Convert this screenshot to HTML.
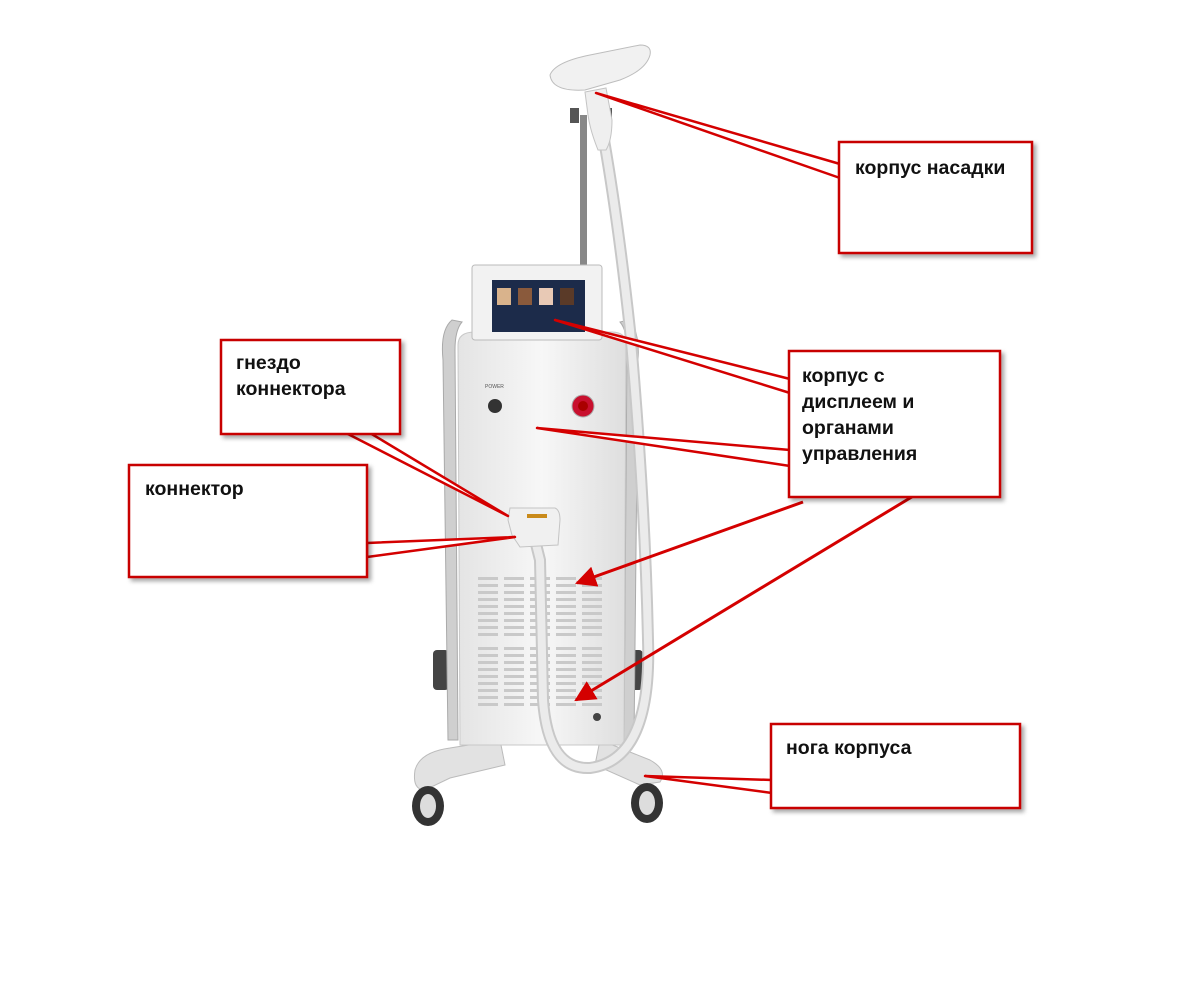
<!DOCTYPE html>
<html><head><meta charset="utf-8"><style>
html,body{margin:0;padding:0;background:#fff;}
svg{display:block;}
text{font-family:"Liberation Sans",Arial,sans-serif;font-weight:bold;font-size:19.5px;fill:#111;}
</style></head><body>
<svg width="1200" height="991" viewBox="0 0 1200 991" xmlns="http://www.w3.org/2000/svg">
<defs>
<linearGradient id="body" x1="0" x2="1"><stop offset="0" stop-color="#e4e4e4"/><stop offset="0.5" stop-color="#f7f7f7"/><stop offset="1" stop-color="#dedede"/></linearGradient>
<marker id="ah" viewBox="0 0 10 10" refX="9" refY="5" markerWidth="7" markerHeight="7" orient="auto"><path d="M0,0 L10,5 L0,10 z" fill="#d40000"/></marker>
<filter id="sh" x="-5%" y="-5%" width="115%" height="115%"><feDropShadow dx="3" dy="3" stdDeviation="2" flood-color="#000" flood-opacity="0.35"/></filter>
</defs>
<rect width="1200" height="991" fill="#fff"/>

<!-- base / legs -->
<path d="M415,770 Q420,752 450,748 L500,740 L505,765 L450,778 L425,790 Q412,790 415,770z" fill="#e2e2e2" stroke="#bbb"/>
<path d="M600,740 L650,760 Q668,770 660,782 L640,785 L595,765z" fill="#e2e2e2" stroke="#bbb"/>
<rect x="433" y="650" width="16" height="40" rx="4" fill="#444"/>
<rect x="627" y="650" width="16" height="40" rx="4" fill="#444"/>
<ellipse cx="428" cy="806" rx="16" ry="20" fill="#333"/><ellipse cx="428" cy="806" rx="8" ry="12" fill="#ddd"/>
<ellipse cx="647" cy="803" rx="16" ry="20" fill="#333"/><ellipse cx="647" cy="803" rx="8" ry="12" fill="#ddd"/>

<path d="M452,320 Q440,330 443,360 L448,740 L458,740 L455,350 Q455,330 462,322z" fill="#cfcfcf" stroke="#aaa"/>
<path d="M628,320 Q640,330 638,360 L634,740 L624,740 L627,350 Q627,330 620,322z" fill="#cfcfcf" stroke="#aaa"/>
<path d="M458,345 Q458,332 475,332 L612,332 Q626,332 626,345 L624,745 L460,745z" fill="url(#body)" stroke="#c8c8c8"/>
<g fill="#c9c9c9">
<g id="vcol">
<rect x="478" y="577" width="20" height="3"/><rect x="478" y="584" width="20" height="3"/><rect x="478" y="591" width="20" height="3"/><rect x="478" y="598" width="20" height="3"/><rect x="478" y="605" width="20" height="3"/><rect x="478" y="612" width="20" height="3"/><rect x="478" y="619" width="20" height="3"/><rect x="478" y="626" width="20" height="3"/><rect x="478" y="633" width="20" height="3"/>
<rect x="478" y="647" width="20" height="3"/><rect x="478" y="654" width="20" height="3"/><rect x="478" y="661" width="20" height="3"/><rect x="478" y="668" width="20" height="3"/><rect x="478" y="675" width="20" height="3"/><rect x="478" y="682" width="20" height="3"/><rect x="478" y="689" width="20" height="3"/><rect x="478" y="696" width="20" height="3"/><rect x="478" y="703" width="20" height="3"/>
</g>
<use href="#vcol" x="26"/><use href="#vcol" x="52"/><use href="#vcol" x="78"/><use href="#vcol" x="104"/>
</g>
<text x="485" y="388" style="font-size:5px;font-weight:normal;fill:#555">POWER</text>
<circle cx="495" cy="406" r="7" fill="#333"/>
<circle cx="583" cy="406" r="11" fill="#c8102e" stroke="#aaa"/>
<circle cx="583" cy="406" r="5" fill="#a00"/>
<circle cx="597" cy="717" r="4" fill="#444"/>

<rect x="580" y="115" width="7" height="155" fill="#888"/>
<rect x="472" y="265" width="130" height="75" rx="3" fill="#f2f2f2" stroke="#bbb"/>
<rect x="492" y="280" width="93" height="52" fill="#1c2b4a"/>
<rect x="497" y="288" width="14" height="17" fill="#d9b38c"/><rect x="518" y="288" width="14" height="17" fill="#8a5a3c"/><rect x="539" y="288" width="14" height="17" fill="#e8c9b5"/><rect x="560" y="288" width="14" height="17" fill="#5a3a28"/>

<!-- hose -->
<path d="M604,140 Q618,220 630,330 Q645,500 648,640 Q652,760 590,768 Q548,770 543,700 L540,560 L535,540" fill="none" stroke="#c8c8c8" stroke-width="12"/>
<path d="M604,140 Q618,220 630,330 Q645,500 648,640 Q652,760 590,768 Q548,770 543,700 L540,560 L535,540" fill="none" stroke="#ebebeb" stroke-width="8"/>
<path d="M510,508 L555,508 Q560,510 560,520 L558,545 L520,547 L512,535 L508,520z" fill="#f0f0f0" stroke="#c4c4c4"/>
<rect x="527" y="514" width="20" height="4" fill="#c98a1a"/>
<!-- handpiece -->
<rect x="570" y="108" width="9" height="15" fill="#555"/><rect x="603" y="108" width="9" height="15" fill="#555"/>
<path d="M585,92 L606,88 L612,120 Q612,140 606,150 L598,150 Q590,130 588,115z" fill="#efefef" stroke="#c4c4c4"/>
<path d="M550,75 Q555,62 590,55 L640,45 Q652,45 650,55 Q646,70 620,80 L585,90 Q552,92 550,75z" fill="#f1f1f1" stroke="#bdbdbd"/>

<g fill="#fff" stroke="#d40000" stroke-width="2.5" stroke-linejoin="round">
<polygon points="596,93 840,164 840,178"/>
<polygon points="555,320 790,379 790,393"/>
<polygon points="537,428 790,450 790,466"/>
<polygon points="508,516 346,433 370,433"/>
<polygon points="515,537 367,543 367,557"/>
<polygon points="645,776 772,780 772,793"/>
</g>
<g stroke="#d40000" stroke-width="3" fill="none">
<line x1="803" y1="502" x2="577" y2="583" marker-end="url(#ah)"/>
<line x1="915" y1="495" x2="576" y2="700" marker-end="url(#ah)"/>
</g>

<g fill="#fff" stroke="#c80000" stroke-width="2.5" filter="url(#sh)">
<rect x="839" y="142" width="193" height="111"/>
<rect x="789" y="351" width="211" height="146"/>
<rect x="221" y="340" width="179" height="94"/>
<rect x="129" y="465" width="238" height="112"/>
<rect x="771" y="724" width="249" height="84"/>
</g>
<text x="855" y="174">корпус насадки</text>
<text x="802" y="382">корпус с</text>
<text x="802" y="408">дисплеем и</text>
<text x="802" y="434">органами</text>
<text x="802" y="460">управления</text>
<text x="236" y="369">гнездо</text>
<text x="236" y="395">коннектора</text>
<text x="145" y="495">коннектор</text>
<text x="786" y="754">нога корпуса</text>
</svg>
</body></html>
